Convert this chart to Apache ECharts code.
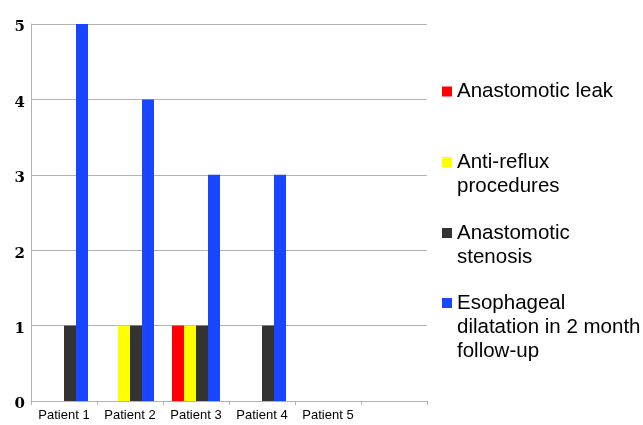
<!DOCTYPE html>
<html>
<head>
<meta charset="utf-8">
<style>
  html, body { margin: 0; padding: 0; background: #fff; }
  #main { width: 643px; height: 425px; }
</style>
<script src="https://cdn.jsdelivr.net/npm/echarts@6/dist/echarts.min.js"></script>
</head>
<body>
<div id="main"></div>
<script>
// 数据
let patients = ['Patient 1', 'Patient 2', 'Patient 3', 'Patient 4', 'Patient 5', ''];
let leak = [0, 0, 1, 0, 0, 0];
let antiReflux = [0, 1, 1, 0, 0, 0];
let stenosis = [1, 1, 1, 1, 0, 0];
let dilatation = [5, 4, 3, 3, 0, 0];

let seriesNames = ['Anastomotic leak', 'Anti-reflux procedures', 'Anastomotic stenosis', 'Esophageal dilatation in 2 month follow-up'];
let legendText = ['Anastomotic leak', 'Anti-reflux\nprocedures', 'Anastomotic\nstenosis', 'Esophageal\ndilatation in 2 month\nfollow-up'];
let colors = ['#ff0000', '#ffff00', '#333333', '#1a45ff'];
let seriesData = [leak, antiReflux, stenosis, dilatation];

let chart = echarts.init(document.getElementById('main'));

// 图例 - 每项单独放, 前面补空行让图标对齐第一行
let lineH = 24;
let iconCenters = [91.5, 162, 233, 303];
let legends = legendText.map((txt, i) => {
  let n = txt.split('\n').length;
  let padded = ' \n'.repeat(n - 1) + txt;
  return {
    orient: 'vertical',
    left: 442,
    top: iconCenters[i] - (2 * n - 1) * lineH / 2,
    padding: 0,
    selectedMode: false,
    icon: 'rect',
    itemWidth: 10,
    itemHeight: 10,
    data: [seriesNames[i]],
    formatter: () => padded,
    textStyle: {
      fontFamily: 'Liberation Sans',
      fontSize: 20.5,
      color: '#000',
      lineHeight: lineH
    }
  };
});

let option = {
  animation: false,
  color: colors,
  legend: legends,
  grid: {
    left: 31,
    right: 216,
    top: 24,
    bottom: 24,
    containLabel: false
  },
  xAxis: {
    type: 'category',
    data: patients,
    axisLine: { lineStyle: { color: '#b3b3b3', width: 1 } },
    axisTick: { show: true, length: 4, lineStyle: { color: '#b3b3b3' } },
    axisLabel: {
      interval: 0,
      margin: 8,
      color: '#000',
      fontFamily: 'Liberation Sans',
      fontSize: 13
    }
  },
  yAxis: {
    type: 'value',
    min: 0,
    max: 5,
    interval: 1,
    axisLine: { show: true, lineStyle: { color: '#b3b3b3' } },
    axisTick: { show: false },
    splitLine: { lineStyle: { color: '#b3b3b3' } },
    axisLabel: {
      margin: 6,
      // 数字略低于网格线
      formatter: '{n|{value}}',
      rich: {
        n: {
          padding: [7, 0, 0, 0],
          color: '#000',
          fontFamily: 'DejaVu Serif',
          fontWeight: 'bold',
          fontSize: 15
        }
      }
    }
  },
  series: seriesData.map((d, i) => ({
    name: seriesNames[i],
    type: 'bar',
    data: d,
    barWidth: 12,
    barGap: '0%'
  }))
};

chart.setOption(option);
</script>
</body>
</html>
